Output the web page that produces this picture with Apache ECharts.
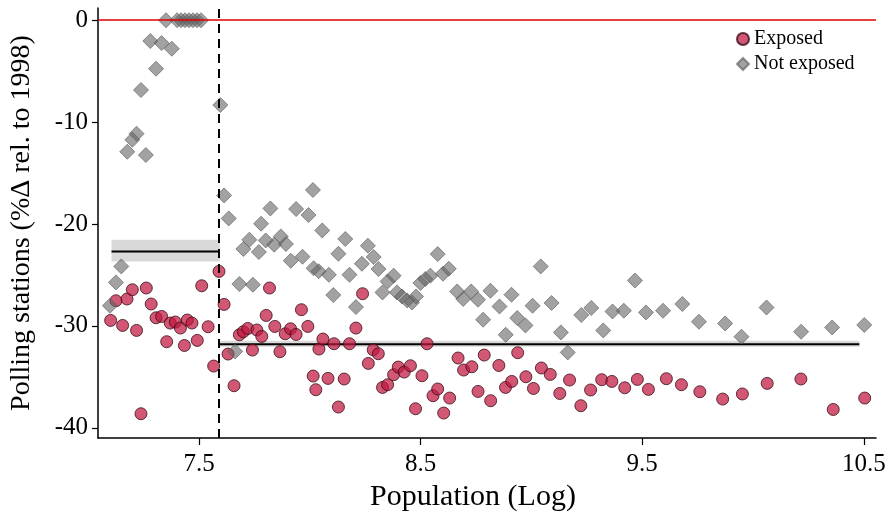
<!DOCTYPE html>
<html>
<head>
<meta charset="utf-8">
<script src="https://cdn.jsdelivr.net/npm/echarts@6/dist/echarts.min.js"></script>
<style>html,body{margin:0;padding:0;background:#fff}#c{width:890px;height:512px}</style>
</head>
<body>
<div id="c"></div>
<script>
const xTicks = [7.5, 8.5, 9.5, 10.5];
const yTicks = [-40, -30, -20, -10, 0];

const exposedX = [7.101,7.125,7.155,7.175,7.199,7.218,7.238,7.262,7.284,7.306,7.331,7.354,7.370,7.393,7.416,7.434,7.447,7.468,7.492,7.512,7.541,7.566,7.590,7.613,7.631,7.658,7.682,7.700,7.720,7.741,7.761,7.783,7.803,7.818,7.842,7.865,7.889,7.913,7.938,7.962,7.991,8.015,8.027,8.041,8.059,8.082,8.109,8.129,8.155,8.179,8.208,8.238,8.264,8.286,8.309,8.328,8.351,8.378,8.399,8.426,8.454,8.477,8.506,8.529,8.556,8.577,8.604,8.631,8.669,8.694,8.731,8.759,8.787,8.816,8.853,8.883,8.911,8.938,8.975,9.009,9.045,9.085,9.128,9.172,9.223,9.267,9.317,9.363,9.421,9.478,9.528,9.609,9.677,9.760,9.863,9.952,10.064,10.216,10.362,10.504];
const exposedY = [-29.46,-27.53,-29.95,-27.36,-26.45,-30.44,-38.62,-26.28,-27.85,-29.20,-29.07,-31.55,-29.72,-29.62,-30.21,-31.92,-29.42,-29.72,-31.42,-26.06,-30.08,-33.94,-24.65,-27.89,-32.76,-35.87,-30.87,-30.57,-30.25,-32.37,-30.40,-31.03,-28.97,-26.28,-30.05,-32.53,-30.77,-30.28,-30.84,-28.41,-30.05,-34.92,-36.26,-32.27,-31.29,-35.15,-31.75,-37.96,-35.21,-31.75,-30.21,-26.84,-33.68,-32.34,-32.73,-36.04,-35.77,-34.79,-34.04,-34.53,-33.91,-38.13,-34.89,-31.75,-36.85,-36.19,-38.55,-37.08,-33.15,-34.33,-34.01,-36.43,-32.86,-37.34,-33.88,-36.04,-35.45,-32.63,-34.99,-36.14,-34.13,-34.76,-36.63,-35.31,-37.83,-36.29,-35.28,-35.45,-36.07,-35.25,-36.23,-35.18,-35.77,-36.46,-37.18,-36.68,-35.64,-35.21,-38.20,-37.08];

const notExposedX = [7.351,7.401,7.419,7.437,7.455,7.473,7.491,7.509,7.280,7.331,7.377,7.306,7.238,7.596,7.218,7.199,7.176,7.260,7.098,7.125,7.149,7.613,7.634,7.663,7.682,7.700,7.727,7.743,7.770,7.780,7.801,7.822,7.839,7.869,7.892,7.914,7.938,7.967,7.994,8.014,8.017,8.040,8.056,8.086,8.106,8.129,8.160,8.179,8.208,8.235,8.262,8.288,8.310,8.328,8.351,8.378,8.393,8.416,8.439,8.461,8.479,8.499,8.521,8.544,8.577,8.601,8.627,8.665,8.692,8.728,8.759,8.782,8.815,8.856,8.884,8.910,8.936,8.973,9.005,9.042,9.091,9.133,9.164,9.225,9.270,9.324,9.366,9.417,9.467,9.517,9.594,9.681,9.756,9.874,9.948,10.061,10.217,10.357,10.502];
const notExposedY = [0,0,0,0,0,0,0,0,-2.04,-2.24,-2.80,-4.76,-6.85,-8.32,-11.14,-11.73,-12.91,-13.23,-28.02,-25.73,-24.16,-17.19,-19.45,-32.50,-25.89,-22.45,-21.54,-25.96,-22.75,-19.97,-21.61,-18.47,-22.03,-21.22,-21.96,-23.60,-18.53,-23.21,-19.12,-16.66,-24.34,-24.63,-20.63,-24.98,-26.97,-22.92,-21.47,-24.98,-28.15,-23.90,-22.13,-23.24,-24.42,-26.71,-25.63,-25.07,-26.71,-27.11,-27.50,-27.70,-27.11,-25.79,-25.40,-25.07,-22.95,-24.88,-24.39,-26.62,-27.36,-26.62,-27.43,-29.39,-26.55,-28.09,-30.87,-26.94,-29.23,-29.95,-28.02,-24.16,-27.75,-30.64,-32.60,-28.93,-28.24,-30.44,-28.58,-28.51,-25.54,-28.68,-28.51,-27.85,-29.59,-29.76,-31.06,-28.19,-30.57,-30.15,-29.91];

// threshold and fitted means with confidence bands
const cutoff = 7.594;
const leftFitX = [7.105, 7.594];
const leftFitY = -22.69;
const leftCI = [-23.67, -21.54];
const rightFitX = [7.594, 10.48];
const rightFitY = -31.80;
const rightCI = [-32.05, -31.45];
const zeroLine = 0;

const FONT = 'Liberation Serif';
const zip = (a, b) => a.map((v, i) => [v, b[i]]);

const chart = echarts.init(document.getElementById('c'), null, {renderer: 'canvas'});
chart.setOption({
  animation: false,
  backgroundColor: '#fff',
  grid: {left: 98, right: 14, top: 8, bottom: 74, containLabel: false, outerBoundsMode: 'none'},
  xAxis: {
    type: 'value', min: 7.044, max: 10.555,
    axisLine: {show: true, onZero: false, lineStyle: {color: '#000', width: 1.5}},
    axisTick: {show: true, customValues: xTicks, length: 7, lineStyle: {color: '#000', width: 1.2}},
    axisLabel: {customValues: xTicks, fontFamily: FONT, fontSize: 25, color: '#000', margin: 14,
      formatter: v => String(v)},
    splitLine: {show: false},
    name: 'Population (Log)', nameLocation: 'middle', nameGap: 42,
    nameTextStyle: {fontFamily: FONT, fontSize: 30, color: '#000', padding: [0, 28, 0, 0]}
  },
  yAxis: {
    type: 'value', min: -41, max: 1.2,
    axisLine: {show: true, onZero: false, lineStyle: {color: '#000', width: 1.5}},
    axisTick: {show: true, customValues: yTicks, length: 6, lineStyle: {color: '#000', width: 1.2}},
    axisLabel: {customValues: yTicks, fontFamily: FONT, fontSize: 25, color: '#000', margin: 10},
    splitLine: {show: false},
    name: 'Polling stations (%\u0394 rel. to 1998)', nameLocation: 'middle', nameGap: 62, nameRotate: 90,
    nameTextStyle: {fontFamily: FONT, fontSize: 28, color: '#000'}
  },
  legend: {
    orient: 'vertical', left: 731, top: 24, itemWidth: 12, itemHeight: 12, itemGap: 5,
    textStyle: {fontFamily: FONT, fontSize: 20, color: '#000', lineHeight: 20},
    data: ['Exposed', 'Not exposed']
  },
  series: [
    {
      type: 'line', name: 'leftFit', data: leftFitX.map(x => [x, leftFitY]),
      symbol: 'none', lineStyle: {color: '#000', width: 2}, z: 1, silent: true,
      markArea: {silent: true, itemStyle: {color: '#d9d9d9'},
        data: [[{coord: [leftFitX[0], leftCI[1]]}, {coord: [leftFitX[1], leftCI[0]]}]]}
    },
    {
      type: 'line', name: 'rightFit', data: rightFitX.map(x => [x, rightFitY]),
      symbol: 'none', lineStyle: {color: '#000', width: 2}, z: 1, silent: true,
      markArea: {silent: true, itemStyle: {color: '#d9d9d9'},
        data: [[{coord: [rightFitX[0], rightCI[1]]}, {coord: [rightFitX[1], rightCI[0]]}]]}
    },
    {
      type: 'scatter', name: 'Exposed', data: zip(exposedX, exposedY),
      symbol: 'circle', symbolSize: 12, z: 3,
      itemStyle: {color: 'rgba(192,22,62,0.9)', borderColor: '#3b0d18', borderWidth: 1}
    },
    {
      type: 'scatter', name: 'Not exposed', data: zip(notExposedX, notExposedY),
      symbol: 'diamond', symbolSize: 15, z: 4,
      itemStyle: {color: 'rgba(100,100,100,0.75)', borderColor: 'rgba(90,90,90,0.8)', borderWidth: 1}
    },
    {
      type: 'line', name: 'refs', data: [], z: 6, silent: true,
      markLine: {
        silent: true, symbol: 'none', label: {show: false}, animation: false,
        data: [
          {yAxis: zeroLine, lineStyle: {color: '#e00000', width: 1.5, type: 'solid'}},
          {xAxis: cutoff, lineStyle: {color: '#000', width: 2, type: [9, 6]}}
        ]
      }
    }
  ]
});
</script>
</body>
</html>
